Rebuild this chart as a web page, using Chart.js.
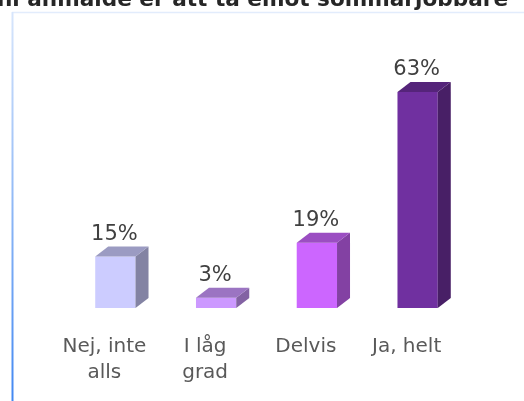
<!DOCTYPE html>
<html>
<head>
<meta charset="utf-8">
<script src="https://cdn.jsdelivr.net/npm/chart.js@4/dist/chart.umd.min.js"></script>
<style>
    html, body { margin: 0; padding: 0; background: #fff; }
    #wrap { width: 524px; height: 401px; position: relative; }
</style>
</head>
<body>
<div id="wrap"><canvas id="chart" width="524" height="401"></canvas></div>
<script>
// Chart data
const categories = [['Nej, inte', 'alls'], ['I låg', 'grad'], ['Delvis'], ['Ja, helt']];
const values = [15, 3, 19, 63];
const barColors = ['#CCCCFF', '#CC99FF', '#CC66FF', '#7030A0'];
const titleText = 'ni anmälde er att ta emot sommarjobbare';

const DEPTH_X = 13;
const DEPTH_Y = 10;

// darken a hex colour by a factor
function shade(hex, f) {
    const n = parseInt(hex.slice(1), 16);
    const r = Math.round(((n >> 16) & 255) * f);
    const g = Math.round(((n >> 8) & 255) * f);
    const b = Math.round((n & 255) * f);
    return `rgb(${r},${g},${b})`;
}

// frame lines + cut-off title
const framePlugin = {
    id: 'frame',
    beforeDraw(chart) {
        const ctx = chart.ctx;
        ctx.save();
        ctx.fillStyle = '#fff';
        ctx.fillRect(0, 0, chart.width, chart.height);

        ctx.strokeStyle = '#e2ecfc';
        ctx.lineWidth = 1.5;
        ctx.beginPath();
        ctx.moveTo(12, 12.5);
        ctx.lineTo(chart.width, 12.5);
        ctx.stroke();

        const grad = ctx.createLinearGradient(0, 12, 0, chart.height);
        grad.addColorStop(0, '#d8e6fc');
        grad.addColorStop(0.5, '#8fb8f6');
        grad.addColorStop(1, '#4288f2');
        ctx.strokeStyle = grad;
        ctx.lineWidth = 2;
        ctx.beginPath();
        ctx.moveTo(12.5, 12);
        ctx.lineTo(12.5, chart.height);
        ctx.stroke();

        ctx.fillStyle = '#262626';
        ctx.font = 'bold 21.6px "DejaVu Sans"';
        ctx.textAlign = 'left';
        ctx.textBaseline = 'alphabetic';
        ctx.fillText(titleText, -3, 6);
        ctx.restore();
    }
};

// side / top faces and value labels
const cubePlugin = {
    id: 'cube',
    afterDatasetsDraw(chart) {
        const ctx = chart.ctx;
        const meta = chart.getDatasetMeta(0);
        ctx.save();
        meta.data.forEach((bar, i) => {
            const left = bar.x - bar.width / 2;
            const right = bar.x + bar.width / 2;
            const top = bar.y;
            const base = bar.base;
            const col = barColors[i];

            // right side
            ctx.fillStyle = shade(col, 0.64);
            ctx.beginPath();
            ctx.moveTo(right, top);
            ctx.lineTo(right + DEPTH_X, top - DEPTH_Y);
            ctx.lineTo(right + DEPTH_X, base - DEPTH_Y);
            ctx.lineTo(right, base);
            ctx.closePath();
            ctx.fill();

            // top
            ctx.fillStyle = shade(col, 0.76);
            ctx.beginPath();
            ctx.moveTo(left, top);
            ctx.lineTo(left + DEPTH_X, top - DEPTH_Y);
            ctx.lineTo(right + DEPTH_X, top - DEPTH_Y);
            ctx.lineTo(right, top);
            ctx.closePath();
            ctx.fill();

            // value label
            ctx.fillStyle = '#404040';
            ctx.font = '21px "DejaVu Sans"';
            ctx.textAlign = 'center';
            ctx.textBaseline = 'alphabetic';
            ctx.fillText(values[i] + '%', bar.x - 1, top - DEPTH_Y - 7);
        });
        ctx.restore();
    }
};

new Chart(document.getElementById('chart'), {
    type: 'bar',
    data: {
        labels: categories,
        datasets: [{
            data: values,
            backgroundColor: barColors,
            borderWidth: 0,
            barPercentage: 0.4,
            categoryPercentage: 1.0
        }]
    },
    options: {
        responsive: false,
        animation: false,
        layout: {
            padding: { top: 68, left: 65, right: 56, bottom: 0 }
        },
        plugins: {
            legend: { display: false },
            tooltip: { enabled: false }
        },
        scales: {
            x: {
                grid: { display: false, drawTicks: false },
                border: { display: false },
                ticks: {
                    color: '#595959',
                    padding: 26,
                    labelOffset: -11,
                    maxRotation: 0,
                    autoSkip: false,
                    font: { family: 'DejaVu Sans', size: 20, lineHeight: 1.3 }
                },
                afterFit(axis) {
                    axis.height = 93;
                }
            },
            y: {
                display: false,
                min: 0,
                max: 70
            }
        }
    },
    plugins: [framePlugin, cubePlugin]
});
</script>
</body>
</html>
